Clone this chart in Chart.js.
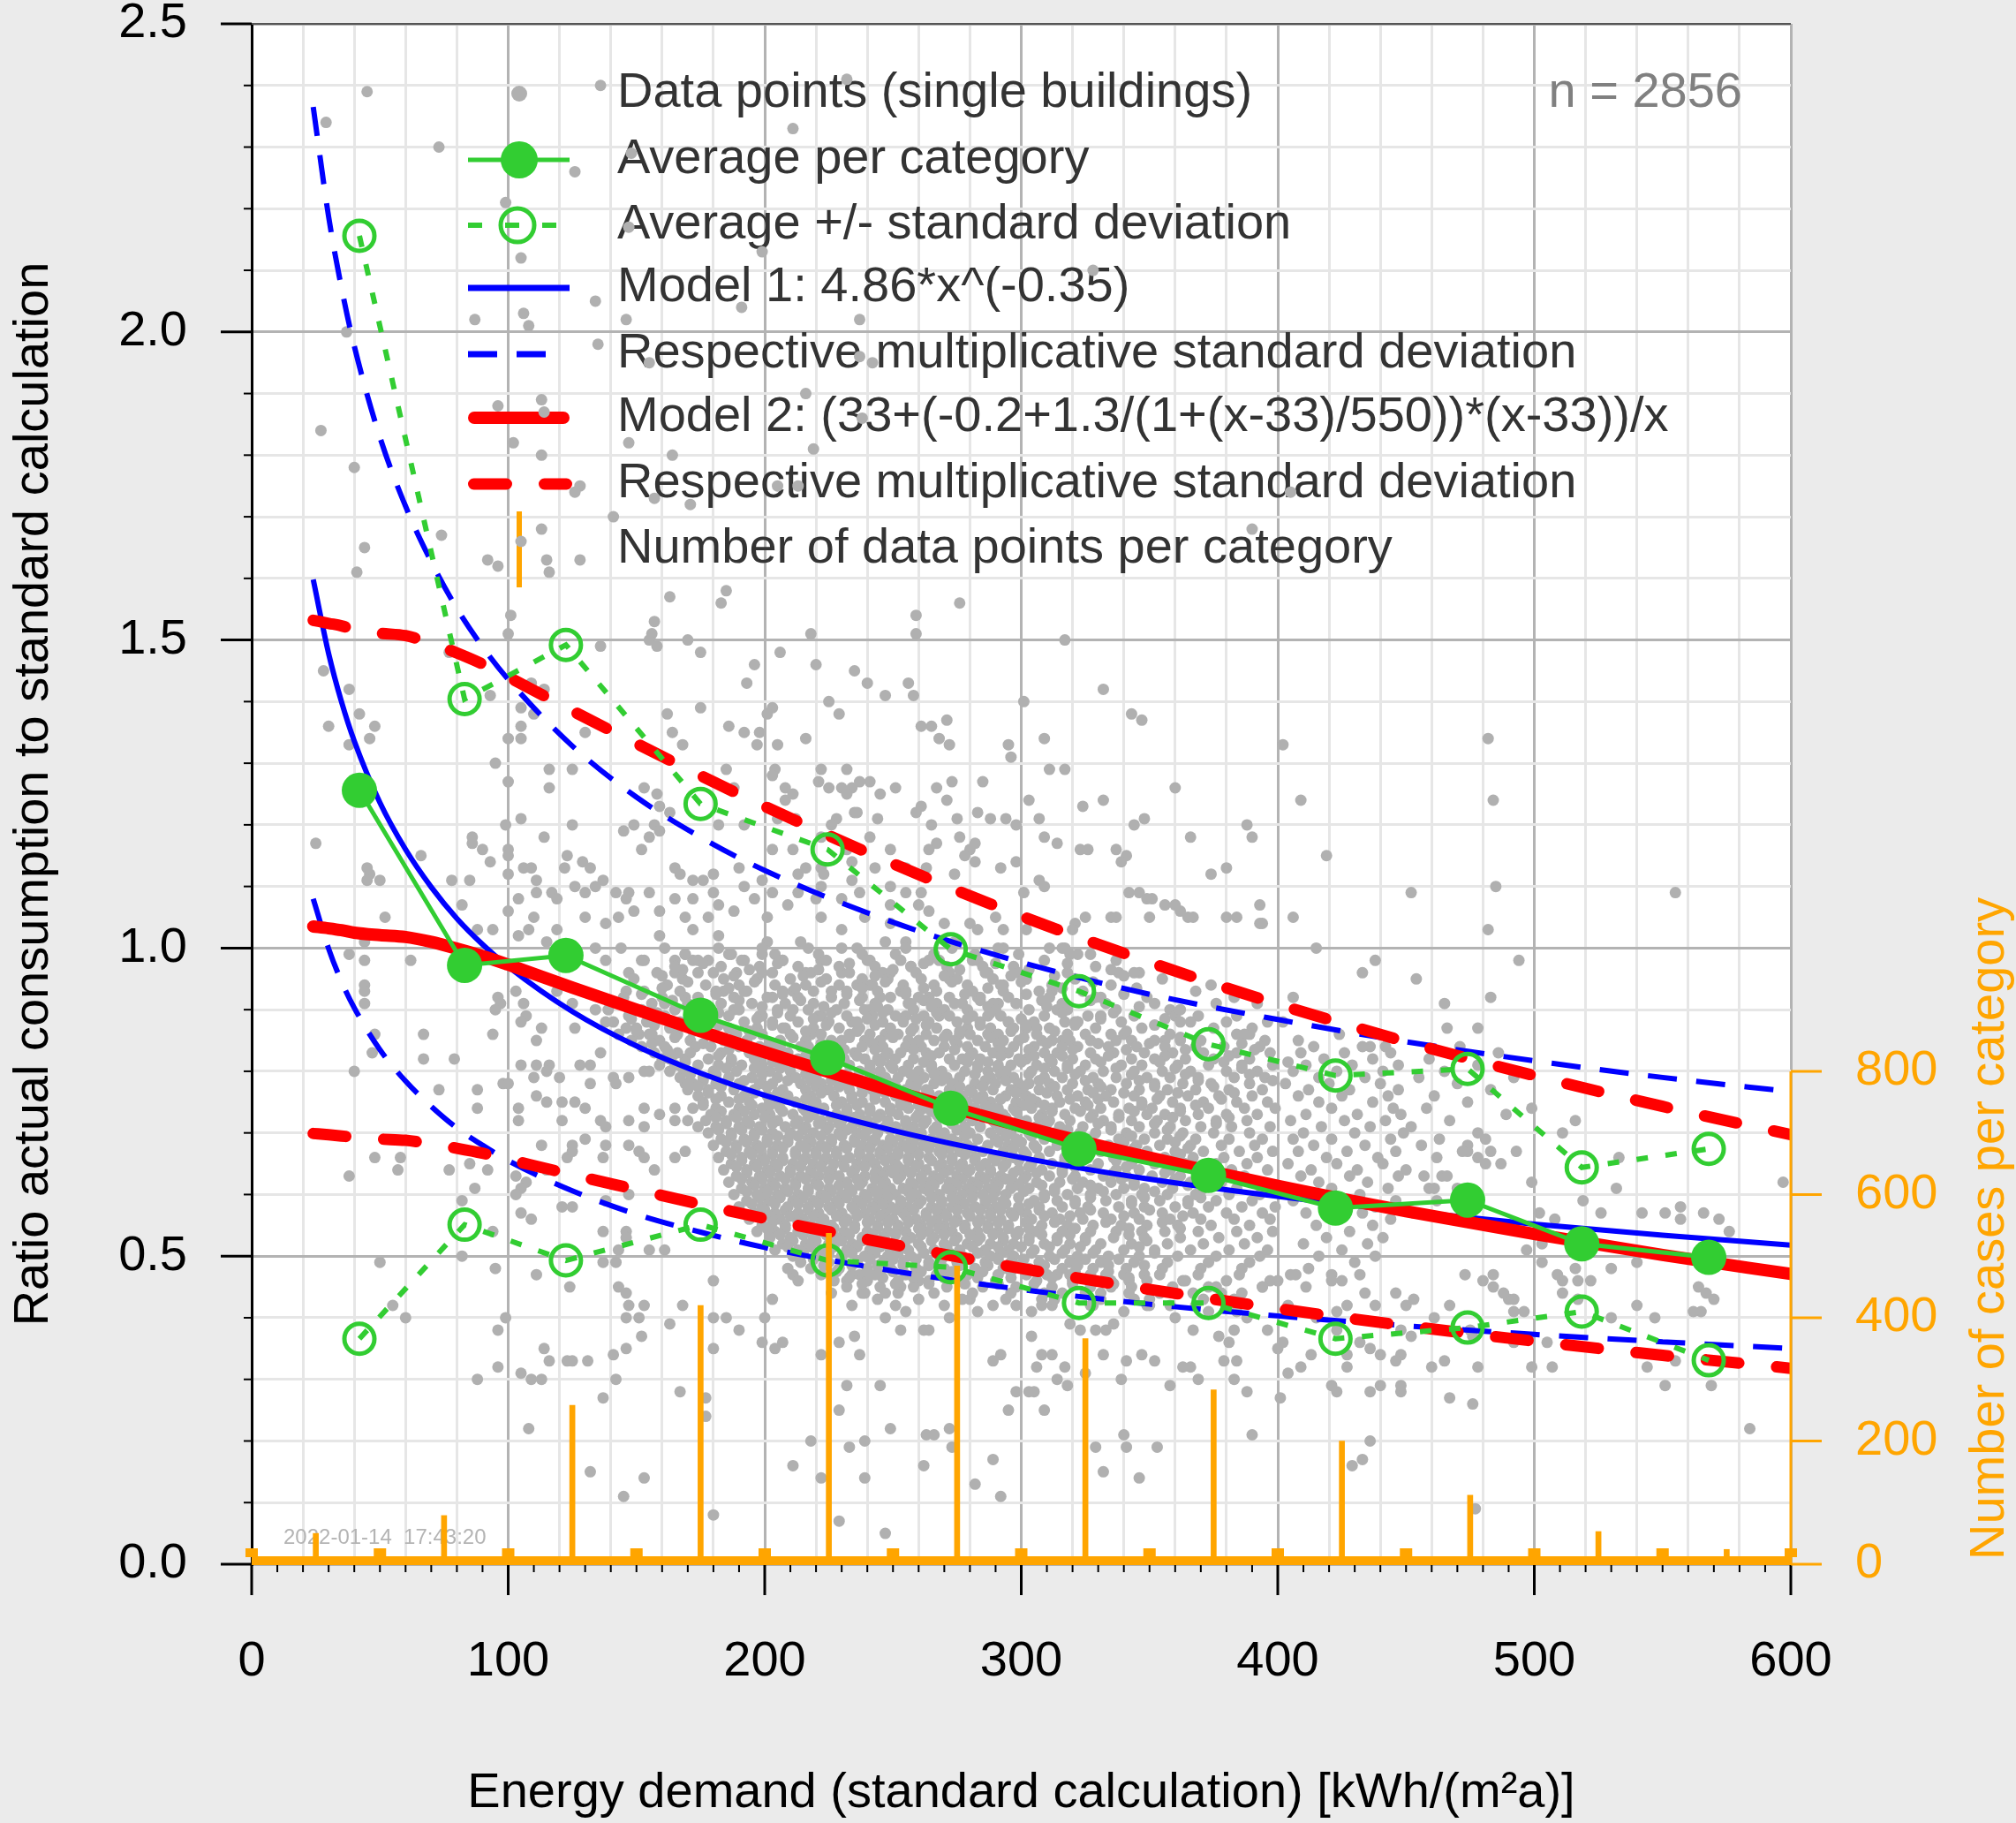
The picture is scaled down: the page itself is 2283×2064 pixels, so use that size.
<!DOCTYPE html>
<html>
<head>
<meta charset="utf-8">
<title>Ratio actual consumption to standard calculation</title>
<script src="https://cdn.jsdelivr.net/npm/chart.js@4/dist/chart.umd.min.js"></script>
<style>
  html, body { margin: 0; padding: 0; background: #ebebeb; }
  canvas { display: block; }
</style>
</head>
<body>
<canvas id="chart" width="2283" height="2064"></canvas>
<script>
// values

// category averages (green)
const catX = [42, 83, 122.5, 175, 224.5, 272.5, 322.5, 373, 422.5, 474, 518.5, 568];
const catAvg = [1.256, 0.972, 0.988, 0.891, 0.822, 0.740, 0.674, 0.631, 0.578, 0.591, 0.520, 0.498];
const catUpper = [2.156, 1.404, 1.492, 1.234, 1.160, 0.998, 0.930, 0.844, 0.793, 0.804, 0.644, 0.674];
const catLower = [0.366, 0.551, 0.493, 0.551, 0.493, 0.482, 0.424, 0.424, 0.366, 0.384, 0.410, 0.331];

// number of data points per category (orange, right axis)
const barX = [25, 75, 125, 175, 225, 275, 325, 375, 425, 475, 525, 575];
const barN = [50, 79, 258, 420, 537, 484, 366, 283, 200, 112, 53, 24];

// model curves
const modelX = [24, 30, 35, 40, 50, 60, 70, 80, 90, 100, 125, 150, 175, 200, 250, 300, 350, 400, 450, 500, 550, 600];
const model1 = [1.598, 1.478, 1.400, 1.336, 1.236, 1.160, 1.099, 1.048, 1.006, 0.970, 0.897, 0.841, 0.797, 0.761, 0.704, 0.660, 0.625, 0.597, 0.573, 0.552, 0.534, 0.518];
const model1Up = [2.365, 2.187, 2.072, 1.977, 1.829, 1.717, 1.627, 1.551, 1.489, 1.436, 1.328, 1.245, 1.180, 1.126, 1.042, 0.977, 0.925, 0.884, 0.848, 0.817, 0.790, 0.767];
const model1Lo = [1.080, 0.999, 0.946, 0.903, 0.835, 0.784, 0.743, 0.708, 0.680, 0.655, 0.606, 0.568, 0.539, 0.514, 0.476, 0.446, 0.422, 0.403, 0.387, 0.373, 0.361, 0.350];
const model2 = [1.035, 1.032, 1.029, 1.025, 1.021, 1.018, 1.010, 0.999, 0.987, 0.973, 0.936, 0.900, 0.865, 0.831, 0.768, 0.711, 0.660, 0.614, 0.573, 0.536, 0.502, 0.471];
const model2Up = [1.532, 1.527, 1.523, 1.517, 1.511, 1.507, 1.495, 1.479, 1.461, 1.440, 1.385, 1.332, 1.280, 1.230, 1.137, 1.052, 0.977, 0.909, 0.848, 0.793, 0.743, 0.697];
const model2Lo = [0.699, 0.697, 0.695, 0.693, 0.690, 0.688, 0.682, 0.675, 0.667, 0.657, 0.632, 0.608, 0.584, 0.561, 0.519, 0.480, 0.446, 0.415, 0.387, 0.362, 0.339, 0.318];

// single buildings, read one by one where they stand apart
const buildingPoints = [
  [45,2.39],[29,2.34],[73,2.30],[126,2.26],[232,2.41],[136,2.40],[211,2.33],[99,2.21],[148,2.29],[105,2.12],[199,2.13],[147,2.17],[134,2.05],[191,2.04],[87,2.02],[106,2.03],[108,2.01],[146,2.02],[237,2.02],[37,2.00],[135,1.98],[237,1.96],[155,1.95],[242,1.95],[216,1.90],[113,1.89],[96,1.88],[114,1.87],[238,1.86],[27,1.84],[102,1.82],[147,1.82],[219,1.81],[113,1.80],[164,1.80],[40,1.78],[128,1.75],[126,1.74],[205,1.75],[213,1.75],[157,1.73],[171,1.72],[141,1.70],[74,1.67],[113,1.68],[328,2.10],[405,1.74],[390,1.68],
  [44,1.65],[41,1.61],[92,1.63],[96,1.62],[115,1.63],[116,1.61],[128,1.63],[105,1.66],[163,1.57],[185,1.58],[183,1.56],[276,1.56],[259,1.54],[259,1.51],[101,1.54],[100,1.51],[157,1.53],[156,1.51],[155,1.50],[158,1.49],[136,1.49],[170,1.50],[175,1.48],[218,1.51],[206,1.48],[220,1.46],[235,1.45],[196,1.46],[193,1.43],[240,1.43],[256,1.43],[247,1.41],[258,1.41],[225,1.40],[229,1.38],[203,1.39],[201,1.38],[175,1.39],[162,1.38],[28,1.45],[38,1.42],[42,1.38],[30,1.36],[48,1.36],[38,1.33],[46,1.34],[109,1.43],[114,1.42],[93,1.41],[105,1.39],[110,1.38],[100,1.34],[105,1.36],[105,1.34],[130,1.35],[77,1.48],[186,1.36],[192,1.35],[198,1.35],[197,1.33],[205,1.33],[216,1.34],[265,1.36],[261,1.36],[271,1.37],[268,1.34],[272,1.33],[295,1.33],[296,1.31],[164,1.35],[168,1.33],[95,1.30],[116,1.29],[125,1.29],[100,1.27],[116,1.26],[185,1.29],[204,1.29],[222,1.29],[221,1.27],[232,1.29],[237,1.27],[241,1.27],[225,1.26],[230,1.26],[234,1.26],[245,1.25],[251,1.26],[267,1.26],[273,1.27],[285,1.27],[232,1.25],[235,1.22],[244,1.21],[259,1.22],[261,1.23],[271,1.24],[275,1.21],[283,1.22],[288,1.21],[294,1.21],[298,1.20],[265,1.20],[276,1.18],[267,1.17],[280,1.16],[282,1.17],[278,1.15],[282,1.14],[274,1.12],[292,1.13],[298,1.14],[236,1.22],[228,1.21],[212,1.21],[208,1.24],[208,1.26],[211,1.25],[226,1.20],[188,1.26],[203,1.28],[205,1.21],[192,1.20],[182,1.20],[158,1.25],[153,1.26],[159,1.23],[163,1.22],[149,1.20],[145,1.19],[157,1.20],[159,1.19],[155,1.18],[125,1.20],[114,1.18],[105,1.21],[99,1.20],[100,1.16],[86,1.18],[86,1.17],[90,1.16],[93,1.14],[100,1.15],[106,1.13],[109,1.13],[123,1.15],[122,1.13],[129,1.14],[132,1.13],[137,1.11],[134,1.10],[111,1.11],[100,1.12],[104,1.08],[111,1.09],[117,1.09],[119,1.08],[126,1.10],[130,1.09],[142,1.09],[147,1.09],[152,1.16],[165,1.13],[167,1.12],[180,1.12],[180,1.09],[172,1.11],[176,1.11],[190,1.13],[199,1.11],[196,1.08],[203,1.09],[213,1.12],[222,1.10],[223,1.12],[234,1.11],[237,1.09],[249,1.10],[255,1.09],[261,1.09],[264,1.06],[270,1.04],[280,1.04],[290,1.05],[293,1.03],[283,1.03],[247,1.01],[230,1.03],[222,1.05],[209,1.07],[201,1.05],[188,1.06],[178,1.05],[169,1.05],[159,1.06],[149,1.06],[143,1.05],[138,1.04],[130,1.05],[110,1.05],[108,1.03],[104,1.02],[100,1.06],[88,1.03],[94,1.03],[82,1.07],[78,1.11],[85,1.11],[52,1.05],[45,1.13],[46,1.12],[45,1.11],[50,1.11],[66,1.15],[25,1.17],[44,1.01],[62,0.98],[38,0.99],[44,0.98],[44,0.94],[44,0.93],[44,0.91],[48,0.86],[67,0.86],[94,0.86],[96,0.92],[97,0.91],[95,0.90],[103,0.93],[106,0.91],[107,0.89],[105,0.88],[113,0.87],[111,0.85],[119,0.93],[125,0.91],[126,0.87],[134,0.90],[138,0.88],[146,0.87],[151,0.86],[155,0.86],[146,0.93],[147,0.96],[138,0.98],[153,0.98],[165,0.96],[165,0.98],[169,0.99],[172,0.98],[180,0.96],[178,0.98],[186,0.99],[192,0.98],[199,0.99],[199,0.96],[207,0.98],[216,0.96],[222,0.98],[230,0.96],[241,0.98],[249,0.96],[257,0.97],[264,0.98],[272,0.95],[281,0.98],[287,0.96],[293,0.94],[192,0.93],[203,0.92],[211,0.93],[226,0.93],[236,0.94],[245,0.92],[257,0.91],[264,0.92],[274,0.91],[283,0.92],[291,0.91],[295,0.88],[287,0.89],[268,0.89],[255,0.89],[241,0.90],[234,0.88],[222,0.89],[211,0.90],[199,0.89],[188,0.90],[184,0.93],[169,0.92],[161,0.91],[195,0.86],[207,0.87],[218,0.86],[230,0.85],[247,0.86],[260,0.85],[276,0.86],[287,0.86],[299,0.85],[253,0.93],[241,0.94],[214,1.01],[230,1.00],[255,1.01],[274,1.01],[293,1.00],[201,1.01],[182,1.02],[172,1.03],[159,1.02],[144,1.00],[134,1.00],[115,1.01],[119,1.03],[249,1.04],[239,1.05],[260,1.07],[249,1.07],[230,1.08],[220,1.08],[213,1.09],[192,1.10],[182,1.07],[172,1.08],[165,1.08],[155,1.09],[146,1.08],[243,1.13],[255,1.13],[263,1.13],[264,1.16],[249,1.16],[241,1.18],[203,1.16],[211,1.16],[222,1.18],[232,1.16],[234,1.14],[222,1.13],[216,1.13],
  [317,1.50],[332,1.42],[301,1.40],[343,1.38],[347,1.37],[309,1.34],[402,1.33],[482,1.34],[311,1.29],[317,1.29],[360,1.26],[303,1.24],[324,1.23],[332,1.24],[409,1.24],[484,1.24],[307,1.21],[348,1.21],[344,1.20],[388,1.20],[390,1.18],[366,1.18],[309,1.18],[314,1.17],[323,1.16],[326,1.16],[337,1.16],[341,1.15],[339,1.14],[419,1.15],[374,1.12],[380,1.13],[307,1.11],[309,1.10],[301,1.09],[342,1.09],[346,1.09],[349,1.08],[351,1.08],[356,1.07],[360,1.07],[362,1.06],[452,1.09],[485,1.10],[555,1.09],[325,1.05],[335,1.05],[337,1.05],[350,1.05],[365,1.05],[367,1.05],[380,1.05],[384,1.05],[393,1.07],[393,1.04],[394,1.04],[406,1.05],[482,1.03],[321,1.04],[320,1.03],[302,1.03],[311,1.00],[415,1.00],[438,0.98],[494,0.98],[317,1.00],[319,0.99],[327,0.99],[338,0.96],[346,0.96],[433,0.96],[454,0.95],[374,0.94],[302,0.95],[312,0.93],[331,0.92],[376,0.91],[383,0.92],[406,0.92],[465,0.91],[483,0.92],[358,0.90],[360,0.89],[362,0.88],[314,0.90],[317,0.88],[321,0.88],[322,0.88],[331,0.89],[369,0.89],[380,0.88],[390,0.87],[396,0.88],[466,0.87],[478,0.87],[302,0.87],[306,0.87],[312,0.85],[316,0.85],[319,0.85],[325,0.86],[337,0.85],[340,0.86],[352,0.85],[356,0.85],[362,0.85],[384,0.86],[389,0.86],[408,0.85],[424,0.86],[436,0.84],[442,0.84],
  [47,0.83],[67,0.82],[79,0.82],[40,0.80],[73,0.77],[88,0.77],[98,0.78],[100,0.78],[88,0.74],[105,0.81],[111,0.81],[116,0.81],[110,0.79],[115,0.80],[120,0.79],[132,0.78],[128,0.81],[132,0.81],[136,0.83],[141,0.79],[142,0.78],[147,0.79],[153,0.80],[155,0.80],[159,0.81],[163,0.82],[111,0.76],[115,0.75],[121,0.75],[126,0.75],[130,0.74],[104,0.74],[104,0.72],[121,0.72],[136,0.72],[138,0.71],[147,0.72],[153,0.71],[153,0.74],[159,0.73],[165,0.74],[169,0.78],[165,0.72],[170,0.72],[174,0.71],[113,0.68],[125,0.68],[130,0.69],[138,0.68],[147,0.68],[151,0.67],[153,0.66],[123,0.66],[125,0.67],[137,0.66],[157,0.64],[165,0.66],[169,0.67],[115,0.64],[107,0.62],[103,0.63],[105,0.61],[48,0.66],[58,0.66],[57,0.64],[77,0.64],[85,0.65],[92,0.64],[87,0.61],[38,0.63],[103,0.60],[109,0.56],[105,0.57],[121,0.58],[125,0.58],[147,0.60],[138,0.59],[146,0.54],[146,0.53],[155,0.51],[161,0.51],[137,0.54],[143,0.51],[137,0.49],[142,0.49],[82,0.59],[82,0.50],[94,0.54],[95,0.48],[111,0.47],[124,0.45],[50,0.49],[55,0.42],[60,0.40],[96,0.38],[99,0.40],[114,0.35],[116,0.33],[123,0.33],[125,0.33],[131,0.33],[96,0.32],[105,0.31],[109,0.30],[113,0.30],[88,0.30],[141,0.34],[146,0.35],[142,0.30],[143,0.45],[146,0.44],[147,0.42],[153,0.42],[151,0.40],[146,0.40],[152,0.37],[163,0.39],[168,0.42],[180,0.40],[185,0.40],[180,0.46],[190,0.38],[180,0.35],[199,0.36],[204,0.35],[207,0.36],[200,0.40],[203,0.43],[167,0.28],[177,0.27],[177,0.24],[137,0.27],[108,0.22],[132,0.15],[153,0.14],[145,0.11],[180,0.08],[218,0.20],[211,0.16],[222,0.14],[229,0.07],[229,0.25],[232,0.29],[233,0.19],[239,0.20],[239,0.14],[247,0.05],[245,0.29],[249,0.22],[263,0.21],[266,0.21],[262,0.16],[272,0.22],[273,0.19],[282,0.13],[292,0.11],[289,0.17],[295,0.25],[298,0.28],[292,0.34],[289,0.33],[237,0.34],[229,0.36],[235,0.37],[222,0.34],[264,0.38],[262,0.38],[272,0.40],[253,0.38],[247,0.40],[280,0.43],[283,0.41],[298,0.42],[247,0.44],[253,0.45],[255,0.41],[226,0.44],[234,0.42],[239,0.44],[211,0.47],[213,0.46],[209,0.48],[232,0.46],[237,0.47],[243,0.47],[260,0.46],[268,0.47],
  [597,0.62],[584,0.22],[569,0.29],[551,0.29],[544,0.32],[555,0.33],[540,0.42],[547,0.40],[564,0.45],[567,0.44],[570,0.43],[565,0.41],[562,0.41],[576,0.54],[566,0.57],[572,0.56],[542,0.57],[551,0.57],[557,0.58],[557,0.56],[540,0.49],[530,0.48],[532,0.61],[519,0.59],[526,0.57],[516,0.72],[533,0.66],[499,0.74],[499,0.62],[511,0.70],[493,0.67],[487,0.65],[481,0.69],[478,0.66],[483,0.67],[474,0.68],[474,0.67],[464,0.63],[457,0.63],[459,0.61],[461,0.61],[502,0.57],[508,0.56],[503,0.52],[497,0.51],[503,0.49],[511,0.46],[509,0.47],[517,0.46],[522,0.46],[516,0.48],[511,0.44],[517,0.43],[530,0.40],[505,0.36],[507,0.32],[499,0.32],[492,0.36],[490,0.43],[492,0.41],[496,0.41],[484,0.45],[488,0.44],[492,0.43],[473,0.47],[480,0.46],[484,0.47],[467,0.27],[476,0.26],[477,0.09],[478,0.32],[465,0.33],[460,0.32],[448,0.28],[448,0.29],[440,0.29],[436,0.28],[436,0.20],[433,0.17],[429,0.16],[423,0.28],[421,0.29],[427,0.32],[427,0.34],[448,0.34],[446,0.33],[440,0.34],[432,0.36],[436,0.35],[413,0.34],[409,0.32],[404,0.31],[401,0.27],[390,0.21],[388,0.28],[383,0.30],[379,0.33],[384,0.33],[366,0.32],[369,0.30],[363,0.32],[358,0.29],[352,0.33],[347,0.34],[341,0.33],[353,0.19],[341,0.19],[340,0.21],[329,0.19],[332,0.15],[346,0.14],[332,0.34],[339,0.30],[317,0.32],[318,0.29],[314,0.30],[309,0.25],[305,0.28],[303,0.28],[308,0.34],[306,0.32],[312,0.34],[304,0.37],[360,0.40],[367,0.38],[373,0.41],[377,0.37],[381,0.36],[383,0.38],[396,0.38],[400,0.35],[402,0.36],[415,0.40],[423,0.38],[384,0.41],[388,0.40],[333,0.38],[336,0.39],[329,0.38],[319,0.39],[323,0.38],[325,0.31],[475,0.38],[476,0.37],[448,0.38],[452,0.37],[461,0.40],[467,0.42],[446,0.44],[450,0.42],[453,0.43],[434,0.44],[438,0.42],[427,0.42],[423,0.41],[432,0.47],[421,0.47],[425,0.46],[411,0.45],[407,0.47],[400,0.46],[394,0.45],[404,0.42],[386,0.44],[383,0.43],[373,0.45],[363,0.46],[367,0.44],[354,0.44],[350,0.42],[358,0.42],[340,0.41],[344,0.43],[335,0.45],[331,0.44],[327,0.42],[312,0.42],[308,0.43],[316,0.44],[304,0.41],[319,0.47],[310,0.47],[342,0.46],[348,0.47],[333,0.47]
];

// dense core of the cloud, estimated row by row: [ratio, energy demand values]
const cloudRows = [
  [1.00, [161,182,199,217,236,255,273,291,316]],
  [0.99, [169,187,204,221,238,251,266,282,299,322]],
  [0.98, [152,174,191,207,224,240,253,268,283,309,337]],
  [0.97, [165,183,198,213,229,243,257,271,285,297,329]],
  [0.96, [158,174,189,203,218,233,246,259,272,286,299,318,344]],
  [0.95, [149,168,184,197,210,224,238,248,261,275,289,302,321,355]],
  [0.94, [162,177,190,204,216,229,242,254,266,279,292,312,335]],
  [0.93, [153,167,181,193,207,219,232,244,255,267,281,293,307,324,368]],
  [0.92, [145,160,174,188,201,213,226,238,249,260,272,284,295,311,329,349]],
  [0.91, [156,170,183,195,208,219,231,243,256,267,277,289,298,316,333,352,392]],
  [0.90, [139,152,165,177,190,205,217,228,239,248,258,270,279,290,303,318,337,362]],
  [0.89, [147,161,173,186,198,210,221,232,242,251,262,272,281,292,309,326,344,384]],
  [0.88, [141,154,167,180,192,203,213,225,236,246,254,264,275,284,295,305,322,339,366,402]],
  [0.87, [150,163,175,186,197,208,219,229,237,249,258,267,279,288,297,311,329,347,375]],
  [0.86, [143,156,166,178,189,199,210,222,233,241,252,263,271,280,291,306,318,335,358,387]],
  [0.85, [148,159,171,184,193,206,216,226,239,245,256,266,274,283,293,308,327,343,370,395]],
  [0.84, [152,161,173,179,190,198,206,214,217,229,238,246,255,261,270,279,286,297,305,316,322,334,345,356,368,379,393,414,433,471]],
  [0.83, [157,166,171,183,194,201,209,221,227,235,248,253,263,268,281,289,295,309,314,327,336,348,359,371,384,397,409,426,444,486]],
  [0.82, [160,169,178,187,196,204,213,219,231,239,244,251,258,272,277,284,299,302,311,320,329,343,352,364,375,389,418,437,459]],
  [0.81, [165,174,182,191,199,207,215,224,233,241,249,256,265,274,283,291,296,306,318,325,339,347,361,373,386,398,411,429,447,478]],
  [0.80, [163,170,180,189,202,210,218,226,237,245,254,260,269,278,287,294,304,313,323,332,344,355,366,380,392,406,423,441,465]],
  [0.79, [167,176,186,195,205,212,220,229,236,247,252,262,271,276,288,297,309,316,328,337,349,358,369,383,395,416,434,455,492]],
  [0.78, [172,181,190,198,203,214,222,231,240,249,257,266,273,282,290,299,303,311,320,330,341,352,363,374,389,403,420,440,470]],
  [0.77, [170,178,188,196,207,216,225,233,242,246,255,263,272,280,289,296,307,318,326,335,346,357,368,381,394,412,428,447,483]],
  [0.76, [174,183,192,201,209,218,227,234,243,251,259,268,277,285,294,302,314,322,333,344,354,365,377,390,408,425,443,461]],
  [0.75, [176,186,194,204,212,220,230,238,247,253,264,271,279,288,298,306,315,325,336,347,359,371,384,396,416,437,474]],
  [0.74, [172,181,190,199,206,215,223,232,241,249,256,262,274,282,291,297,304,312,321,331,342,351,362,373,387,399,421,445,458]],
  [0.73, [179,188,196,202,211,219,228,237,245,252,260,267,276,286,293,308,317,328,338,349,356,369,380,392,411,431,448,489]],
  [0.72, [177,185,193,205,213,222,230,240,248,255,263,272,281,289,299,302,311,319,332,343,353,364,376,388,405,426,442,467]],
  [0.71, [181,190,198,208,216,225,234,242,247,251,258,267,278,284,295,306,315,324,335,346,358,370,382,397,417,436,452]],
  [0.70, [178,187,196,203,210,219,229,236,244,253,261,270,280,288,296,303,313,323,329,341,352,363,375,389,410,430,449,478]],
  [0.69, [183,192,201,209,217,226,235,243,249,257,265,273,283,290,298,309,318,327,338,348,357,368,381,394,406,421,444,463]],
  [0.68, [180,189,197,205,214,222,231,238,246,254,262,271,279,287,295,305,314,325,334,345,354,366,378,391,414,434,456]],
  [0.67, [185,194,203,212,220,228,237,245,252,259,268,276,285,293,301,311,320,331,340,349,360,371,385,398,408,427,446,472]],
  [0.66, [182,191,199,207,216,224,233,241,249,256,264,273,282,289,297,307,317,326,336,347,356,367,379,392,419,439,462]],
  [0.65, [187,196,204,211,219,227,236,243,251,260,269,277,286,294,304,312,322,330,343,352,364,376,388,404,423,441,481]],
  [0.64, [184,193,201,210,218,226,235,244,248,255,263,272,280,288,299,308,316,327,337,346,358,369,382,396,413,431,450]],
  [0.63, [189,198,206,214,221,229,239,246,253,261,266,275,284,292,302,311,321,332,341,351,362,374,387,409,428,447,466]],
  [0.62, [186,195,203,212,220,232,238,247,257,264,272,281,290,297,306,315,324,335,344,355,366,378,391,416,435]],
  [0.61, [191,200,208,217,225,233,242,249,254,262,271,279,287,296,303,313,322,330,340,348,359,371,384,398,421,443,470]],
  [0.60, [188,197,205,213,222,230,239,245,251,259,268,277,285,294,309,318,327,337,347,357,368,381,393,412,432]],
  [0.59, [193,202,211,219,228,236,244,253,261,269,276,286,293,305,314,321,333,343,354,365,376,390,406,426,446,462]],
  [0.58, [190,199,209,217,225,234,242,249,256,265,273,282,290,299,307,316,326,338,348,360,373,386,399,418,438]],
  [0.57, [196,204,213,221,230,239,247,254,263,270,279,288,296,302,312,323,332,344,355,367,380,394,411,433,453]],
  [0.56, [194,206,215,223,232,241,250,259,267,275,284,292,304,315,324,335,346,358,370,383,397,423,444]],
  [0.55, [199,208,218,226,235,244,252,261,270,278,287,295,308,318,328,339,349,361,374,389,415,437]],
  [0.54, [197,204,213,222,231,240,248,255,264,273,283,291,299,306,316,327,337,347,356,369,384,398,428]],
  [0.53, [202,210,219,228,238,246,257,266,275,284,293,303,314,325,336,348,362,377,392,419,441]],
  [0.52, [207,216,225,234,243,250,260,270,279,288,297,309,319,331,343,357,371,387,410,435]],
  [0.51, [204,213,222,232,241,249,256,266,276,286,295,305,317,329,340,352,366,381,396,425]],
  [0.50, [211,220,230,239,248,257,268,277,288,297,311,322,334,346,361,376,393,416,438]],
  [0.49, [214,225,236,246,254,264,275,286,296,307,319,331,344,357,373,389,430]],
  [0.48, [218,229,240,249,259,270,282,293,303,316,328,341,355,370,386,412]],
  [0.47, [222,234,245,255,267,279,291,302,314,327,340,354,369,385,405]],
  [0.46, [227,240,252,264,277,290,306,320,335,349,364,380,397,421]],
  [0.45, [232,245,258,271,285,298,312,327,343,359,376,394]],
  [0.44, [238,252,266,281,296,309,325,342,360,378]],
  [0.43, [244,260,277,294,313,331,350,371]],
  [0.42, [251,270,289,308,328,349,368]],
  // in-between rows where the core is densest
  [0.975, [176,205,233,262,290,318]],
  [0.965, [168,194,221,250,276,303,335]],
  [0.955, [160,188,215,243,270,296,313,340]],
  [0.945, [170,196,222,247,273,300,328]],
  [0.935, [160,186,212,238,262,287,316,345]],
  [0.925, [152,181,207,232,255,278,302,340]],
  [0.915, [164,190,214,237,262,284,308,327]],
  [0.905, [146,172,199,223,244,265,287,310,346]],
  [0.895, [158,182,205,226,246,267,288,316,336]],
  [0.885, [148,175,197,219,240,259,279,300,331,356]],
  [0.875, [157,182,203,224,243,263,284,302,321,352]],
  [0.865, [150,172,194,216,236,257,276,296,313,341]],
  [0.855, [165,188,211,233,250,270,288,301,318,362]],
  [0.845, [156,176,202,222,242,259,275,291,310,330,350,386]],
  [0.835, [162,186,205,231,243,258,274,292,303,320,341,364,391]],
  [0.825, [164,182,199,216,225,236,247,265,280,292,305,316,334,356,381]],
  [0.815, [169,187,203,220,229,245,262,279,287,300,312,331,354,379,404]],
  [0.805, [168,185,196,206,222,241,250,265,283,291,309,318,337,360,386]],
  [0.795, [171,181,199,216,232,241,257,266,282,292,303,321,343,364,389]],
  [0.785, [176,192,209,218,226,244,260,269,286,294,307,325,346,369,398]],
  [0.775, [174,183,201,220,229,238,251,259,276,285,301,313,331,352,375]],
  [0.765, [178,196,205,222,238,247,264,273,281,298,310,328,340,361,383]],
  [0.755, [181,190,208,216,234,243,256,266,283,292,304,319,330,353,378]],
  [0.745, [176,195,202,219,228,236,253,260,268,286,301,309,326,347,368]],
  [0.735, [183,192,207,216,232,241,249,265,272,289,298,312,323,344,362]],
  [0.725, [181,189,200,217,226,235,244,259,268,277,294,307,327,338,359,381]],
  [0.715, [185,194,203,212,221,229,238,255,262,273,290,301,310,330,352,376]],
  [0.705, [182,191,199,215,224,232,240,249,257,266,275,292,308,318,335,357]],
  [0.695, [187,196,205,213,222,230,239,253,261,269,278,294,304,322,343,362]],
  [0.685, [185,193,201,209,218,226,235,242,250,258,267,275,291,300,319,340,360]],
  [0.675, [189,198,207,216,224,232,241,248,256,264,272,281,297,306,325,344,365]],
  [0.665, [187,195,203,212,220,228,237,245,252,260,269,278,293,302,321,341,362]],
  [0.655, [191,200,207,215,223,231,240,247,256,265,273,282,290,299,317,337,358]],
  [0.645, [189,197,205,214,222,231,239,252,259,268,276,284,293,303,321,341,363]],
  [0.635, [193,202,210,218,225,234,243,250,257,270,279,288,297,306,316,336,356]],
  [0.625, [191,199,208,216,225,236,243,252,261,268,277,286,294,301,320,339,360]],
  [0.615, [196,204,212,221,229,237,246,258,266,275,283,291,299,308,327,344,365]],
  [0.605, [193,201,209,217,226,234,243,248,256,264,273,281,290,301,313,332,352]],
  [0.595, [198,206,215,224,232,240,248,257,265,273,281,289,299,309,327,348,370]],
  [0.585, [195,204,213,221,229,238,246,253,260,269,278,286,294,303,321,343,365]],
  [0.575, [200,208,217,226,235,243,251,258,267,275,284,292,299,307,327,350]],
  [0.565, [202,210,219,228,236,245,255,263,271,280,288,297,309,319,340,363]],
  [0.555, [203,213,222,231,240,248,256,265,274,283,291,302,313,333,355]],
  [0.545, [201,208,218,227,235,244,252,260,268,278,287,295,303,321,342,362]],
  [0.535, [206,215,224,233,242,251,261,270,280,289,298,308,319,342]],
  [0.525, [211,220,230,238,247,255,265,274,283,293,303,314,325,349]],
  [0.515, [209,218,227,236,245,252,261,271,281,291,300,311,323,346]],
  [0.505, [215,225,234,243,252,262,272,283,292,304,316,328,352]],
  [0.495, [219,230,241,250,259,269,280,291,301,313,325,338]],
  [0.485, [223,234,244,254,264,276,287,298,309,322,334,348]],
  [0.475, [228,240,250,261,273,285,296,308,321,334]],
  [0.465, [233,246,258,270,283,296,312,327,342]],
  [0.455, [238,251,264,278,291,305,320,336]]
];

const legendLabels = [
  'Data points (single buildings)',
  'Average per category',
  'Average +/- standard deviation',
  'Model 1: 4.86*x^(-0.35)',
  'Respective multiplicative standard deviation',
  'Model 2: (33+(-0.2+1.3/(1+(x-33)/550))*(x-33))/x',
  'Respective multiplicative standard deviation',
  'Number of data points per category'
];
const sampleSize = 'n = 2856';
const stamp = '2022-01-14  17:43:20';

const FONT = "'Liberation Sans', Arial, Helvetica, sans-serif";
const GREEN = '#32cd32', BLUE = '#0000ff', RED = '#ff0000', ORANGE = '#ffa500', GREY = '#b0b0b0';
const GRID_MAJOR = '#b3b3b3', GRID_MINOR = '#e6e6e6';

Chart.defaults.font.family = FONT;

function xy(xs, ys) {
  return xs.map((x, i) => ({ x: x, y: ys[i] }));
}

const cloud = buildingPoints.map(p => ({ x: p[0], y: p[1] }));
cloudRows.forEach(row => row[1].forEach(x => cloud.push({ x: x, y: row[0] })));

// scales keep exactly the box they are given; no extra room for half labels
function fixBox(size) {
  return s => {
    if (s.isHorizontal()) s.height = size; else s.width = size;
    s.paddingTop = 0; s.paddingBottom = 0; s.paddingLeft = 0; s.paddingRight = 0;
  };
}

// background, frame, legend, ticks etc.
const decorations = {
  id: 'decorations',
  beforeDraw(chart) {
    const { ctx, chartArea: a } = chart;
    ctx.save();
    ctx.fillStyle = '#ebebeb';
    ctx.fillRect(0, 0, chart.width, chart.height);
    ctx.fillStyle = '#ffffff';
    ctx.fillRect(a.left, a.top, a.right - a.left, a.bottom - a.top);
    ctx.restore();
  },
  beforeDatasetsDraw(chart) {
    const { ctx } = chart;
    ctx.save();
    // timestamp
    ctx.font = '24px ' + FONT;
    ctx.fillStyle = '#b4b4b4';
    ctx.textBaseline = 'alphabetic';
    ctx.fillText(stamp, 321, 1748);

    // legend
    const rowsY = [106, 181, 255, 326, 401, 473, 548, 622];
    const x0 = 530, x1 = 645, xc = 588;
    const line = (y, color, w, dash, cap, end) => {
      const r = cap === 'round' ? w / 2 : 0;
      ctx.save();
      ctx.strokeStyle = color; ctx.lineWidth = w; ctx.setLineDash(dash || []);
      ctx.lineCap = cap || 'butt';
      ctx.beginPath(); ctx.moveTo(x0 + r, y); ctx.lineTo((end || x1) - r, y); ctx.stroke();
      ctx.restore();
    };
    ctx.fillStyle = GREY;
    ctx.beginPath(); ctx.arc(xc, rowsY[0], 9, 0, Math.PI * 2); ctx.fill();
    line(rowsY[1], GREEN, 5);
    ctx.fillStyle = GREEN;
    ctx.beginPath(); ctx.arc(xc, rowsY[1], 21, 0, Math.PI * 2); ctx.fill();
    line(rowsY[2], GREEN, 6, [16, 26]);
    ctx.strokeStyle = GREEN; ctx.lineWidth = 5;
    ctx.beginPath(); ctx.arc(xc - 2, rowsY[2], 19, 0, Math.PI * 2); ctx.stroke();
    line(rowsY[3], BLUE, 7);
    line(rowsY[4], BLUE, 7, [33, 22], 'butt', 618);
    line(rowsY[5], RED, 14, [], 'round');
    line(rowsY[6], RED, 13, [37, 43], 'round', 648);
    ctx.strokeStyle = ORANGE; ctx.lineWidth = 6;
    ctx.beginPath(); ctx.moveTo(xc, rowsY[7] - 43); ctx.lineTo(xc, rowsY[7] + 43); ctx.stroke();

    ctx.font = '56px ' + FONT;
    ctx.textBaseline = 'middle';
    ctx.textAlign = 'left';
    ctx.fillStyle = '#333333';
    legendLabels.forEach((t, i) => ctx.fillText(t, 699, rowsY[i]));
    ctx.textAlign = 'right';
    ctx.fillStyle = '#808080';
    ctx.fillText(sampleSize, 1973, rowsY[0]);
    ctx.restore();
  },
  afterDatasetsDraw(chart) {
    const { ctx, chartArea: a, scales: { x } } = chart;
    ctx.save();
    ctx.fillStyle = ORANGE;
    ctx.fillRect(a.left, a.bottom - 9, a.right - a.left, 10);
    x.ticks.filter(t => t.value % 50 === 0).forEach(t => {
      const px = x.getPixelForValue(t.value);
      ctx.fillRect(px - 7, a.bottom - 18, 14, 10);
    });
    ctx.restore();
  },
  afterDraw(chart) {
    const { ctx, chartArea: a, scales: { x, y, y2 } } = chart;
    ctx.save();
    // frame top
    ctx.strokeStyle = '#555555'; ctx.lineWidth = 2;
    ctx.beginPath(); ctx.moveTo(a.left, a.top); ctx.lineTo(a.right, a.top); ctx.stroke();
    // black tick marks
    ctx.strokeStyle = '#000000';
    y.ticks.forEach(t => {
      const major = Math.round(t.value * 10) % 5 === 0;
      const py = y.getPixelForValue(t.value);
      ctx.lineWidth = major ? 3 : 2;
      ctx.beginPath(); ctx.moveTo(a.left - (major ? 35 : 9), py); ctx.lineTo(a.left, py); ctx.stroke();
    });
    x.ticks.forEach(t => {
      const major = Math.round(t.value) % 100 === 0;
      const px = x.getPixelForValue(t.value);
      ctx.lineWidth = major ? 3 : 2;
      ctx.beginPath(); ctx.moveTo(px, a.bottom + 1); ctx.lineTo(px, a.bottom + (major ? 35 : 9)); ctx.stroke();
    });
    // orange right axis
    ctx.strokeStyle = ORANGE; ctx.lineWidth = 3;
    const yTop = y2.getPixelForValue(y2.ticks[y2.ticks.length - 1].value);
    ctx.beginPath(); ctx.moveTo(a.right, a.bottom); ctx.lineTo(a.right, yTop); ctx.stroke();
    y2.ticks.forEach(t => {
      const py = y2.getPixelForValue(t.value);
      ctx.beginPath(); ctx.moveTo(a.right, py); ctx.lineTo(a.right + 35, py); ctx.stroke();
    });
    // right axis title, reading upwards
    ctx.translate(2254, a.bottom - 5);
    ctx.rotate(-Math.PI / 2);
    ctx.font = '56px ' + FONT;
    ctx.fillStyle = ORANGE;
    ctx.textAlign = 'left';
    ctx.textBaseline = 'middle';
    ctx.fillText('Number of cases per category', 0, 0);
    ctx.restore();
  }
};

const lineBase = { type: 'line', pointRadius: 0, fill: false, cubicInterpolationMode: 'monotone' };

new Chart(document.getElementById('chart'), {
  type: 'scatter',
  data: {
    datasets: [
      { type: 'scatter', label: 'Data points', data: cloud, pointRadius: 6.5, pointBackgroundColor: GREY, pointBorderWidth: 0, order: 100 },
      Object.assign({}, lineBase, { label: 'Model 1 +sd', data: xy(modelX, model1Up), borderColor: BLUE, borderWidth: 6, borderDash: [33, 22], order: 60 }),
      Object.assign({}, lineBase, { label: 'Model 1 -sd', data: xy(modelX, model1Lo), borderColor: BLUE, borderWidth: 6, borderDash: [33, 22], order: 60 }),
      Object.assign({}, lineBase, { label: 'Model 1', data: xy(modelX, model1), borderColor: BLUE, borderWidth: 6, order: 50 }),
      Object.assign({}, lineBase, { label: 'Model 2 +sd', data: xy(modelX, model2Up), borderColor: RED, borderWidth: 13, borderDash: [37, 43], borderCapStyle: 'round', order: 40 }),
      Object.assign({}, lineBase, { label: 'Model 2 -sd', data: xy(modelX, model2Lo), borderColor: RED, borderWidth: 13, borderDash: [37, 43], borderCapStyle: 'round', order: 40 }),
      Object.assign({}, lineBase, { label: 'Model 2', data: xy(modelX, model2), borderColor: RED, borderWidth: 14, borderCapStyle: 'round', order: 30 }),
      { type: 'line', label: 'Average + sd', data: xy(catX, catUpper), borderColor: GREEN, borderWidth: 6, borderDash: [13, 20], tension: 0,
        pointRadius: 17, pointBorderWidth: 5, pointBorderColor: GREEN, pointBackgroundColor: 'rgba(0,0,0,0)', order: 20 },
      { type: 'line', label: 'Average - sd', data: xy(catX, catLower), borderColor: GREEN, borderWidth: 6, borderDash: [13, 20], tension: 0,
        pointRadius: 17, pointBorderWidth: 5, pointBorderColor: GREEN, pointBackgroundColor: 'rgba(0,0,0,0)', order: 20 },
      { type: 'line', label: 'Average', data: xy(catX, catAvg), borderColor: GREEN, borderWidth: 5, tension: 0,
        pointRadius: 20, pointBorderWidth: 0, pointBackgroundColor: GREEN, order: 10 },
      { type: 'bar', label: 'Cases', data: xy(barX, barN), yAxisID: 'y2', barThickness: 6, backgroundColor: ORANGE, order: 5 }
    ]
  },
  options: {
    responsive: false,
    animation: false,
    devicePixelRatio: 1,
    events: [],
    layout: { padding: { top: 27, left: 0, right: 0, bottom: 0 } },
    plugins: { legend: { display: false }, tooltip: { enabled: false } },
    scales: {
      x: {
        type: 'linear', position: 'bottom', min: 0, max: 600, offset: false,
        afterFit: fixBox(293),
        ticks: {
          stepSize: 10, maxTicksLimit: 1000, autoSkip: false, maxRotation: 0, padding: 77,
          color: '#000', font: { size: 56 },
          callback: v => (Math.round(v) % 100 === 0 ? String(v) : '')
        },
        grid: {
          offset: false, drawTicks: false, lineWidth: 3,
          color: c => {
            const v = Math.round(c.tick.value);
            return v % 100 === 0 ? GRID_MAJOR : (v % 20 === 0 ? GRID_MINOR : 'rgba(0,0,0,0)');
          }
        },
        border: { display: false },
        title: {
          display: true, text: 'Energy demand (standard calculation) [kWh/(m²a)]',
          color: '#000', font: { size: 56 }, padding: { top: 0, bottom: 0 }
        }
      },
      y: {
        type: 'linear', position: 'left', min: 0, max: 2.5,
        afterFit: fixBox(285),
        ticks: {
          stepSize: 0.1, maxTicksLimit: 1000, autoSkip: false, padding: 73,
          color: '#000', font: { size: 56 },
          callback: v => (Math.round(v * 10) % 5 === 0 ? v.toFixed(1) : '')
        },
        grid: {
          drawTicks: false, lineWidth: 3,
          color: c => (Math.round(c.tick.value * 10) % 5 === 0 ? GRID_MAJOR : GRID_MINOR)
        },
        border: { color: '#000', width: 3 },
        title: {
          display: true, text: 'Ratio actual consumption to standard calculation',
          color: '#000', font: { size: 56 }, padding: { top: 5, bottom: 0 }
        }
      },
      y2: {
        type: 'linear', position: 'right', min: 0, max: 2500,
        afterFit: fixBox(255),
        afterBuildTicks: s => { s.ticks = s.ticks.filter(t => t.value <= 800); },
        ticks: { stepSize: 200, padding: 73, color: ORANGE, font: { size: 56 } },
        grid: { display: false, drawTicks: false },
        border: { display: false }
      }
    }
  },
  plugins: [decorations]
});
</script>
</body>
</html>
